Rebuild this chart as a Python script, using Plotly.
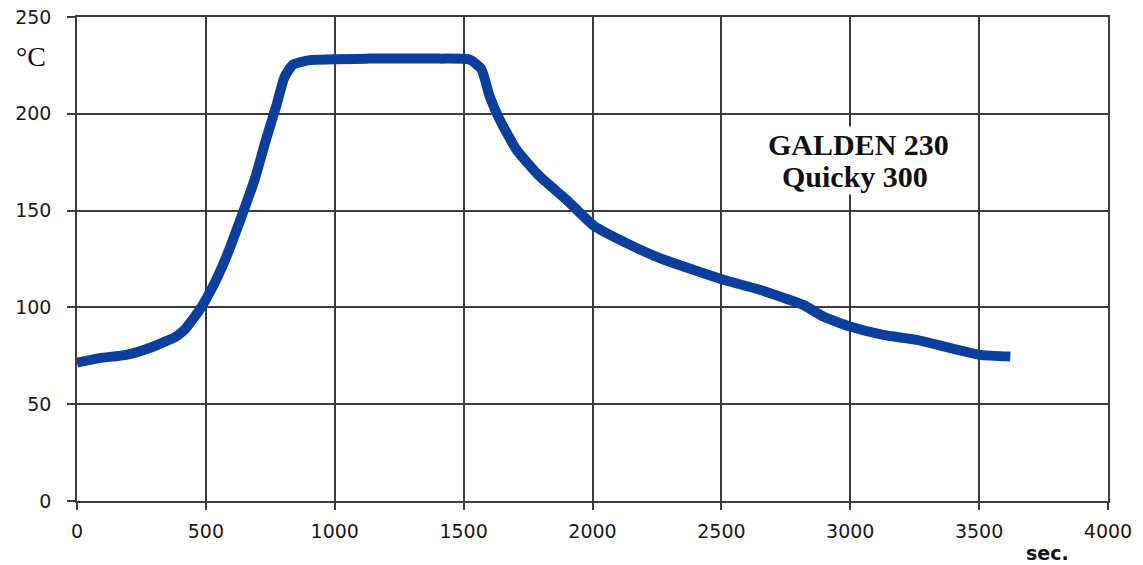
import plotly.graph_objects as go

time_s = [0, 87, 191, 281, 385, 417, 476, 527, 579, 644, 689, 734, 773, 805, 838, 903,
          1135, 1407, 1524, 1569, 1601, 1640, 1705, 1795, 1899, 2005, 2132, 2261, 2391,
          2507, 2649, 2818, 2895, 2999, 3128, 3258, 3388, 3505, 3621]
temp_c = [71.5, 73.8, 75.5, 79, 85, 88.4, 98.8, 110.8, 126, 149, 166, 187, 204, 219, 225.4, 227.7,
          228.5, 228.5, 228, 223, 209, 197, 181.5, 167.7, 155.6, 142.2, 133.2, 125.5, 119.4,
          114.3, 109.1, 101.3, 95.3, 90.1, 85.8, 83.2, 79, 75.5, 74.6]

x_ticks = [0, 500, 1000, 1500, 2000, 2500, 3000, 3500, 4000]
y_ticks = [0, 50, 100, 150, 200, 250]

label_lines = ["GALDEN 230", "Quicky 300"]

W, H = 1143, 565
ml, mr, mt, mb = 77, 35, 17, 64
pw, ph = W - ml - mr, H - mt - mb


def px_to_paper(px, py):
    return (px - ml) / pw, 1 - (py - mt) / ph


fig = go.Figure()
fig.add_trace(go.Scatter(
    x=time_s, y=temp_c, mode="lines",
    line=dict(color="#0b3f9e", width=10, shape="spline", smoothing=0.5),
    hoverinfo="x+y", showlegend=False,
))

grid = "#3c3c3c"
tickfont = dict(family="DejaVu Sans", size=19, color="#1a1a1a")

fig.update_xaxes(
    range=[0, 4000], tickvals=x_ticks, ticktext=[str(v) for v in x_ticks],
    showgrid=True, gridcolor=grid, gridwidth=1.6, zeroline=False,
    showline=True, linecolor=grid, linewidth=1.6, mirror=True,
    ticks="outside", ticklen=7, tickwidth=1.6, tickcolor=grid,
    tickfont=tickfont, ticklabelstandoff=5, automargin=False,
    ticklabeloverflow="allow",
)
fig.update_yaxes(
    range=[0, 250], tickvals=y_ticks, ticktext=[str(v) for v in y_ticks],
    showgrid=True, gridcolor=grid, gridwidth=1.6, zeroline=False,
    showline=True, linecolor=grid, linewidth=1.6, mirror=True,
    ticks="outside", ticklen=8, tickwidth=1.6, tickcolor=grid,
    tickfont=tickfont, ticklabelstandoff=12, automargin=False,
    ticklabeloverflow="allow",
)

for (px, py), line in zip([(858, 144), (855, 176)], label_lines):
    ax_, ay_ = px_to_paper(px, py)
    fig.add_annotation(
        x=ax_, y=ay_, xref="paper", yref="paper", xanchor="center", yanchor="middle",
        text=f"<b>{line}</b>", showarrow=False, bgcolor="white",
        font=dict(family="Liberation Serif", size=30, color="#111"),
        borderpad=1,
    )

cx, cy = px_to_paper(31, 56)
fig.add_annotation(
    x=cx, y=cy, xref="paper", yref="paper", xanchor="center", yanchor="middle",
    text="°C", showarrow=False,
    font=dict(family="Liberation Serif", size=28, color="#111"),
)
sx, sy = px_to_paper(1047, 553)
fig.add_annotation(
    x=sx, y=sy, xref="paper", yref="paper", xanchor="center", yanchor="middle",
    text="<b>sec.</b>", showarrow=False,
    font=dict(family="DejaVu Sans", size=19, color="#111"),
)

fig.update_layout(
    width=W, height=H,
    margin=dict(l=ml, r=mr, t=mt, b=mb, autoexpand=False),
    plot_bgcolor="white", paper_bgcolor="white",
)

fig.write_html("out.html", config={"displayModeBar": False},
               post_script="document.body.style.margin='0';")
